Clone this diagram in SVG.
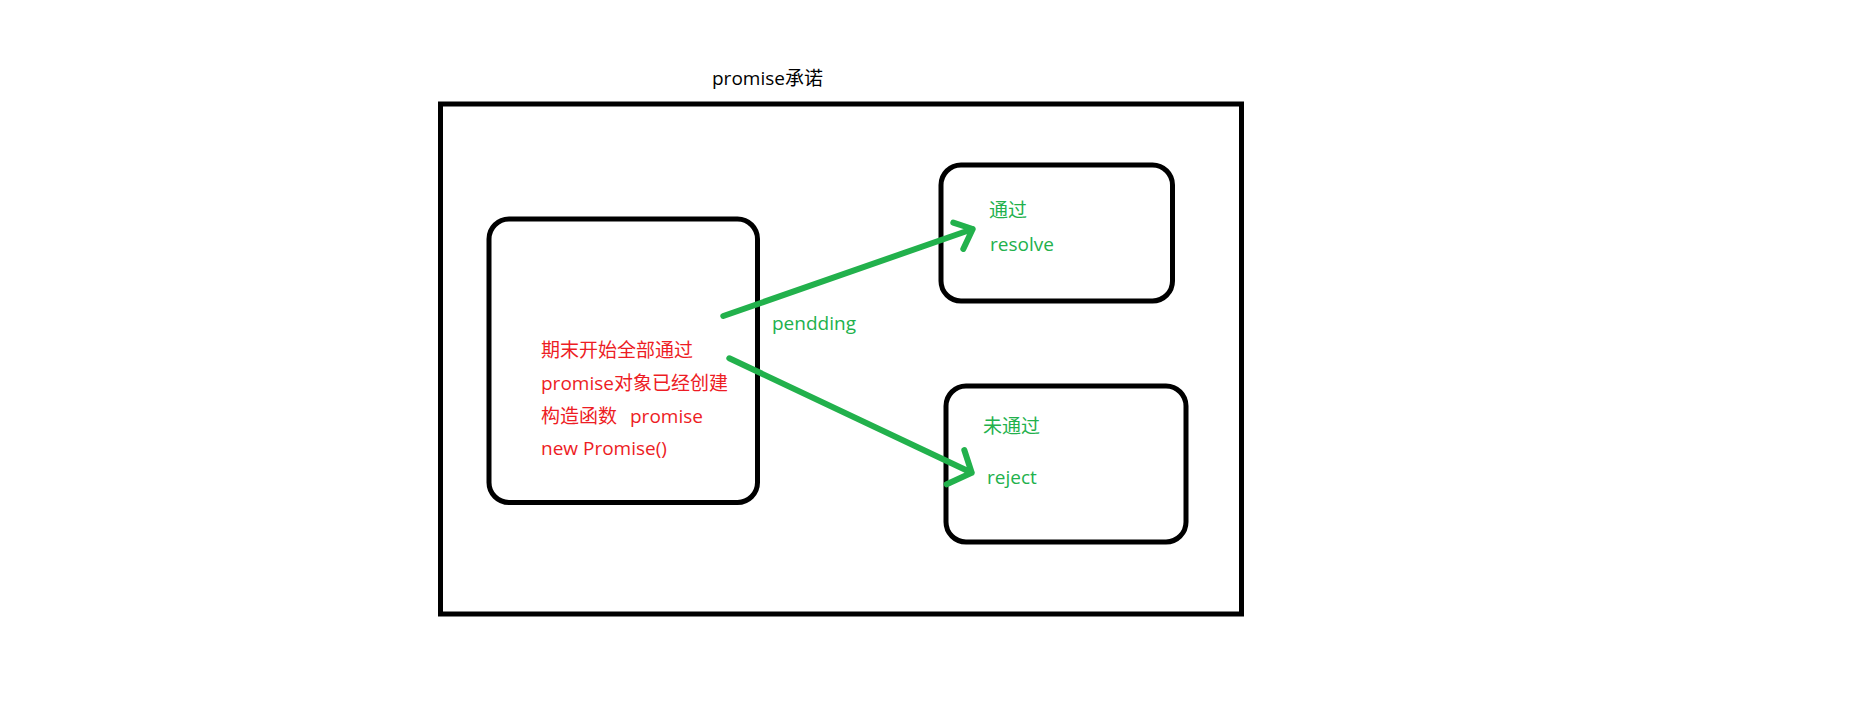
<svg xmlns="http://www.w3.org/2000/svg" width="1856" height="702" viewBox="0 0 1856 702">
<style>
.box{fill:none;stroke:#000;stroke-width:5}
.t{font-family:'Open Sans','Noto Sans CJK SC',sans-serif;font-size:19px}
.red{fill:#ED1C24}
.grn{fill:#22B14C}
.blk{fill:#000}
.arr{fill:none;stroke:#22B14C;stroke-width:6;stroke-linecap:round;stroke-linejoin:round}
</style>
<rect width="1856" height="702" fill="#fff"/>
<g id="frame">
<rect class="box" x="440.5" y="104" width="801" height="510"/>
<text class="t blk" x="712" y="85">promise承诺</text>
</g>
<g id="start">
<rect class="box" x="489" y="219" width="268.5" height="283.5" rx="20"/>
<text class="t red" x="541" y="357">期末开始全部通过</text>
<text class="t red" x="541" y="390">promise对象已经创建</text>
<text class="t red" x="541" y="423" xml:space="preserve">构造函数  <tspan x="630">promise</tspan></text>
<text class="t red" x="541" y="455">new Promise()</text>
</g>
<g id="resolve">
<rect class="box" x="941" y="165" width="231.5" height="136" rx="20"/>
<text class="t grn" x="989" y="217">通过</text>
<text class="t grn" x="990" y="251">resolve</text>
</g>
<g id="reject">
<rect class="box" x="946" y="386" width="240" height="156" rx="20"/>
<text class="t grn" x="983" y="433">未通过</text>
<text class="t grn" x="987" y="484">reject</text>
</g>
<g id="connectors">
<path class="arr" d="M723.3,316 L972.7,229 M953.3,222.7 L972.7,229 L963.3,249"/>
<path class="arr" d="M729.3,358.3 L971.7,472.7 M964.3,450 L971.7,472.7 L946.7,484.3"/>
<text class="t grn" x="772" y="330">pendding</text>
</g>
</svg>
